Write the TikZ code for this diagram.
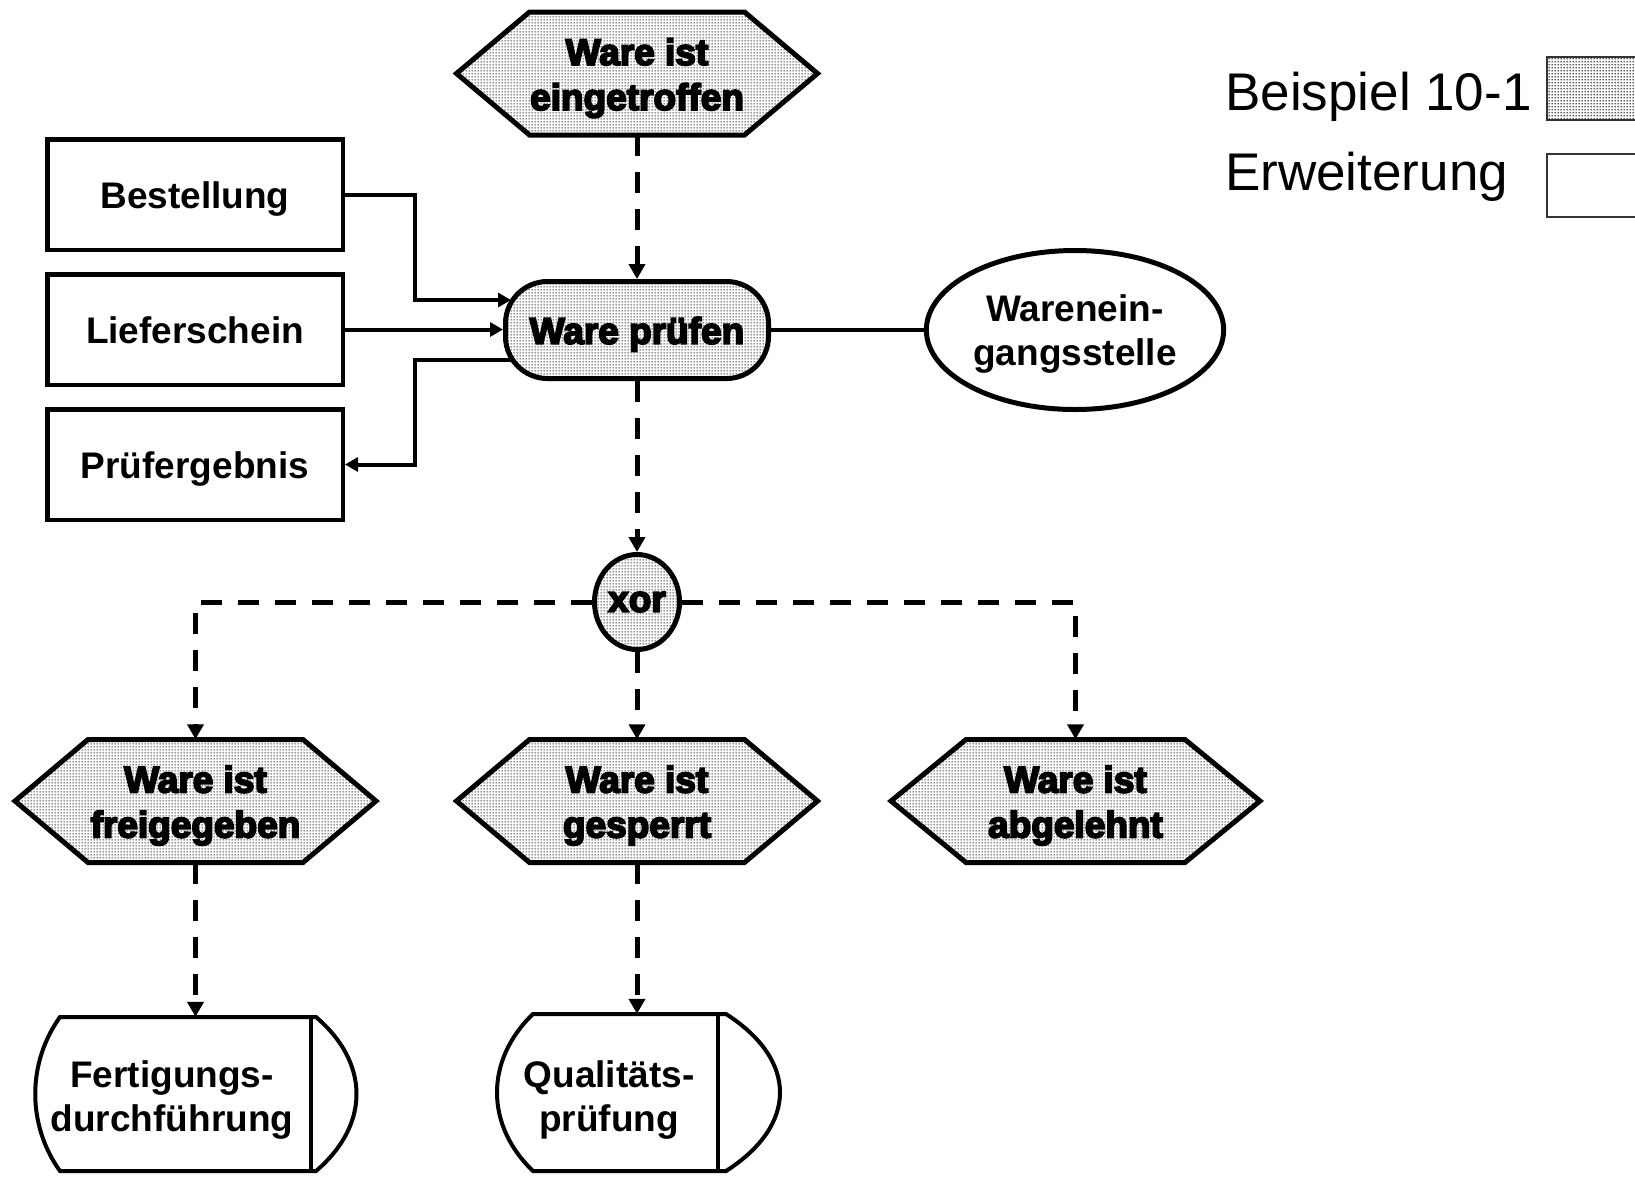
\documentclass[tikz,border=0pt]{standalone}
\usepackage{fontspec}
\setmainfont{Liberation Sans}
\newfontfamily\heavyfont{Liberation Sans Bold}[FakeBold=5]
\usetikzlibrary{arrows.meta,calc,shapes.geometric,patterns}

% fine halftone screen used for the grey objects
\pgfdeclarepatternformonly{halftone}{\pgfqpoint{0pt}{0pt}}{\pgfqpoint{3pt}{3pt}}{\pgfqpoint{3pt}{3pt}}{%
  \pgfpathrectangle{\pgfqpoint{0.7pt}{0.7pt}}{\pgfqpoint{1.6pt}{1.6pt}}\pgfusepath{fill}}

\tikzset{
  lbl/.style={font={\bfseries\fontsize{37}{44}\selectfont}, align=center},
  shadedlbl/.style={font={\heavyfont\fontsize{37}{45}\selectfont}, align=center},
  oneline/.style={text height=27.6pt, text depth=0pt},
  twolines/.style={text height=71.6pt, text depth=0pt},
  twolinesshaded/.style={text height=73pt, text depth=0pt},
  databox/.style={draw, line width=4.5pt, minimum width=295.5pt, minimum height=110.5pt, lbl, oneline},
  fnbox/.style={draw, pattern=halftone, line width=5pt, rounded corners=42pt,
    minimum width=263pt, minimum height=97pt, shadedlbl, oneline},
  orgunit/.style={draw, ellipse, line width=5pt, minimum width=290pt, minimum height=159pt, lbl, twolines},
  xorop/.style={draw, ellipse, pattern=halftone, line width=5pt, minimum width=85pt,
    minimum height=95pt, inner sep=0pt, shadedlbl},
  evtext/.style={minimum width=250pt, minimum height=123pt, inner sep=0pt, shadedlbl, twolinesshaded},
  evshape/.style={draw, line width=5pt, pattern=halftone, line join=miter},
  fntext/.style={minimum width=250pt, inner sep=0pt, lbl, twolines},
  fnshape/.style={draw, line width=4pt},
  flow/.style={line width=5pt, dash pattern=on 21pt off 16pt, -{Triangle[length=15pt,width=16pt]}},
  info/.style={line width=4pt, -{Triangle[length=13pt,width=14pt]}},
  link/.style={line width=4pt},
  legtext/.style={anchor=base west, inner sep=0pt, font={\fontsize{53}{60}\selectfont}},
  legbox/.style={draw=black!80, line width=2pt, minimum width=104pt, minimum height=63pt,
    anchor=north west, inner sep=0pt},
}

\begin{document}
\begin{tikzpicture}[x=1pt,y=-1pt]
\useasboundingbox (0,0) rectangle (1635,1176);
\clip (0,0) rectangle (1635,1176);

% events
\begin{scope}[shift={(637,73.5)}]
  \draw[evshape] (-180.5,0) -- (-107.5,-61.5) -- (107.5,-61.5) -- (180.5,0)
    -- (107.5,61.5) -- (-107.5,61.5) -- cycle;
  \node[evtext] (e0) at (0,0) {Ware ist\\eingetroffen};
\end{scope}
\begin{scope}[shift={(195.5,801)}]
  \draw[evshape] (-180.5,0) -- (-107.5,-61.5) -- (107.5,-61.5) -- (180.5,0)
    -- (107.5,61.5) -- (-107.5,61.5) -- cycle;
  \node[evtext] (e1) at (0,0) {Ware ist\\freigegeben};
\end{scope}
\begin{scope}[shift={(637,801)}]
  \draw[evshape] (-180.5,0) -- (-107.5,-61.5) -- (107.5,-61.5) -- (180.5,0)
    -- (107.5,61.5) -- (-107.5,61.5) -- cycle;
  \node[evtext] (e2) at (0,0) {Ware ist\\gesperrt};
\end{scope}
\begin{scope}[shift={(1075.5,801)}]
  \draw[evshape] (-184.5,0) -- (-109.5,-61.5) -- (109.5,-61.5) -- (184.5,0)
    -- (109.5,61.5) -- (-109.5,61.5) -- cycle;
  \node[evtext] (e3) at (0,0) {Ware ist\\abgelehnt};
\end{scope}

% function, data objects, organisational unit
\node[fnbox] (wp) at (637,330) {Ware prüfen};
\node[databox] (best) at (195,194.5) {Bestellung};
\node[databox] (lief) at (195,329.5) {Lieferschein};
\node[databox] (pruf) at (195,464.5) {Prüfergebnis};
\node[orgunit] (ou) at (1075,330) {Warenein-\\gangsstelle};

% connector
\node[xorop] (xor) at (637,602) {xor};

% follow-up functions
\draw[fnshape] (60,1017) -- (316,1017)
  .. controls (370,1063) and (370,1125) .. (316,1171) -- (60,1171)
  .. controls (27,1125) and (27,1063) .. cycle;
\draw[fnshape] (311,1017) -- (311,1171);
\node[fntext, minimum height=158pt] (f1) at (172,1096) {Fertigungs-\\durchführung};

\draw[fnshape] (533,1014) -- (726,1014)
  .. controls (798,1060) and (798,1125) .. (726,1171) -- (533,1171)
  .. controls (485,1125) and (485,1060) .. cycle;
\draw[fnshape] (718,1014) -- (718,1171);
\node[fntext, minimum height=164pt] (f2) at (609,1096) {Qualitäts-\\prüfung};

% data flows
\coordinate (wpIn) at (511,300);
\coordinate (wpOut) at (511,360);
\draw[info] (best.east) -- ++(70,0) |- (wpIn);
\draw[info] (lief.east) -- (lief.east -| wp.west);
\draw[info] (wpOut) -- (415,360) |- (pruf.east);
\draw[link] (wp.east) -- (ou.west);

% control flow
\draw[flow] (e0.south) -- (wp.north);
\draw[flow] (wp.south) -- (xor.north);
\draw[flow] (xor.west) -| (e1.north);
\draw[flow] (xor.east) -| (e3.north);
\draw[flow] (xor.south) -- (e2.north);
\draw[flow] (e1.south) -- (e1.south |- f1.north);
\draw[flow] (e2.south) -- (e2.south |- f2.north);

% legend
\node[legtext] (lg1) at (1225,110) {Beispiel 10-1};
\node[legtext] (lg2) at (1225,190) {Erweiterung};
\node[legbox, pattern=halftone] (lgb1) at (1546,56) {};
\node[legbox] (lgb2) at (1546,153) {};
\end{tikzpicture}
\end{document}
